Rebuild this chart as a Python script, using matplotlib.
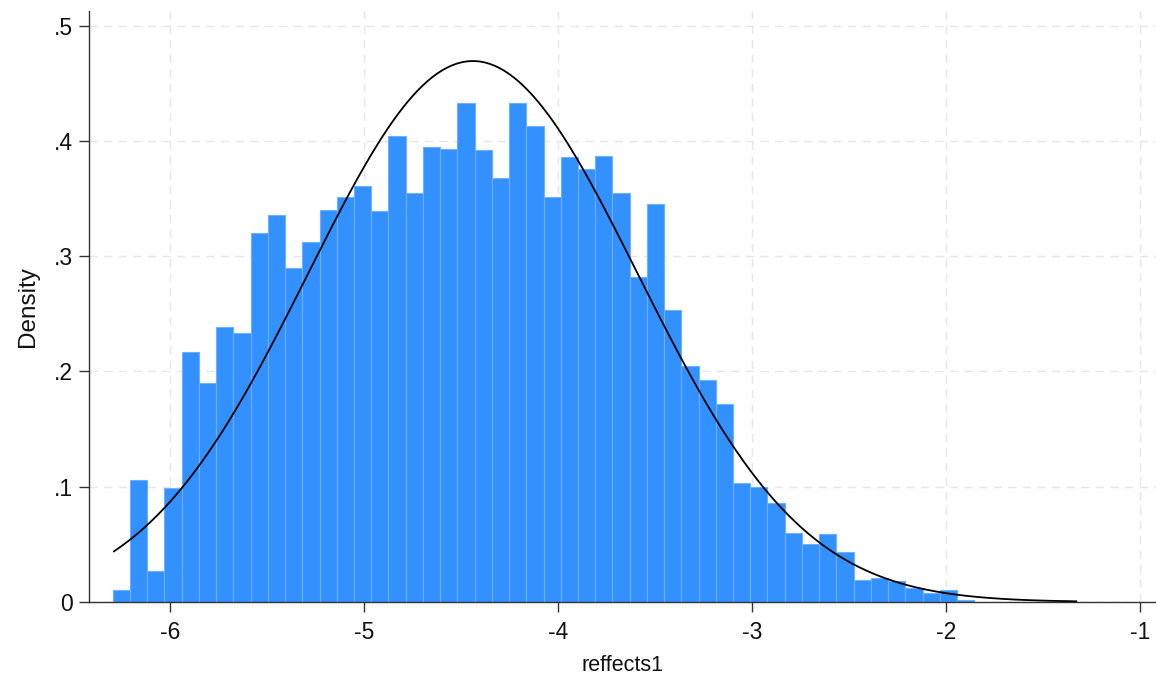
import numpy as np
import matplotlib
matplotlib.use("Agg")
import matplotlib.pyplot as plt

# histogram of reffects1: 50 equal-width bins, density scale
bin_start = -6.296
bin_width = 0.0888
density = [
    0.010, 0.106, 0.027, 0.099, 0.217, 0.190, 0.239, 0.233, 0.320, 0.336,
    0.290, 0.312, 0.340, 0.351, 0.361, 0.339, 0.404, 0.355, 0.395, 0.393,
    0.433, 0.392, 0.368, 0.433, 0.413, 0.351, 0.386, 0.376, 0.387, 0.355,
    0.282, 0.345, 0.253, 0.205, 0.193, 0.172, 0.103, 0.100, 0.086, 0.060,
    0.050, 0.059, 0.043, 0.019, 0.021, 0.018, 0.012, 0.008, 0.010, 0.002,
]

# overlaid normal density
norm_mean = -4.44
norm_sd = 0.85
curve_from, curve_to = -6.29, -1.33

x_ticks = [-6, -5, -4, -3, -2, -1]
y_ticks = [0, 0.1, 0.2, 0.3, 0.4, 0.5]
y_ticklabels = ["0", ".1", ".2", ".3", ".4", ".5"]

plt.rcParams["font.family"] = ["Liberation Sans", "DejaVu Sans"]

fig = plt.figure(figsize=(11.56, 6.77), dpi=100)
ax = fig.add_axes([0.0772, 0.1108, 0.9228, 0.873])

lefts = bin_start + bin_width * np.arange(len(density))
ax.bar(lefts, density, width=bin_width, align="edge",
       color="#3390ff", edgecolor="#6cb0ff", linewidth=0.8, zorder=2)

xs = np.linspace(curve_from, curve_to, 400)
ys = np.exp(-0.5 * ((xs - norm_mean) / norm_sd) ** 2) / (norm_sd * np.sqrt(2 * np.pi))
ax.plot(xs, ys, color="black", linewidth=1.3, zorder=3)

ax.set_xlim(-6.4174, -0.919)
ax.set_ylim(0, 0.5128)
ax.set_xticks(x_ticks)
ax.set_xticklabels([str(t) for t in x_ticks])
ax.set_yticks(y_ticks)
ax.set_yticklabels(y_ticklabels)

ax.grid(True, color="#e6e6e6", linestyle=(0, (6, 4.5)), linewidth=1.0, zorder=0)
ax.set_axisbelow(True)

for side in ("top", "right"):
    ax.spines[side].set_visible(False)
for side in ("left", "bottom"):
    ax.spines[side].set_color("#333333")
    ax.spines[side].set_linewidth(1.0)

ax.tick_params(axis="both", length=7.5, width=1.0, color="#333333",
               labelsize=16.5, labelcolor="#111111", pad=4)
ax.tick_params(axis="x", pad=6)

ax.set_xlabel("reffects1", fontsize=15.5, color="#111111", labelpad=8)
ax.set_ylabel("Density", fontsize=17.5, color="#111111", labelpad=11)

fig.savefig("out.png", dpi=100)
